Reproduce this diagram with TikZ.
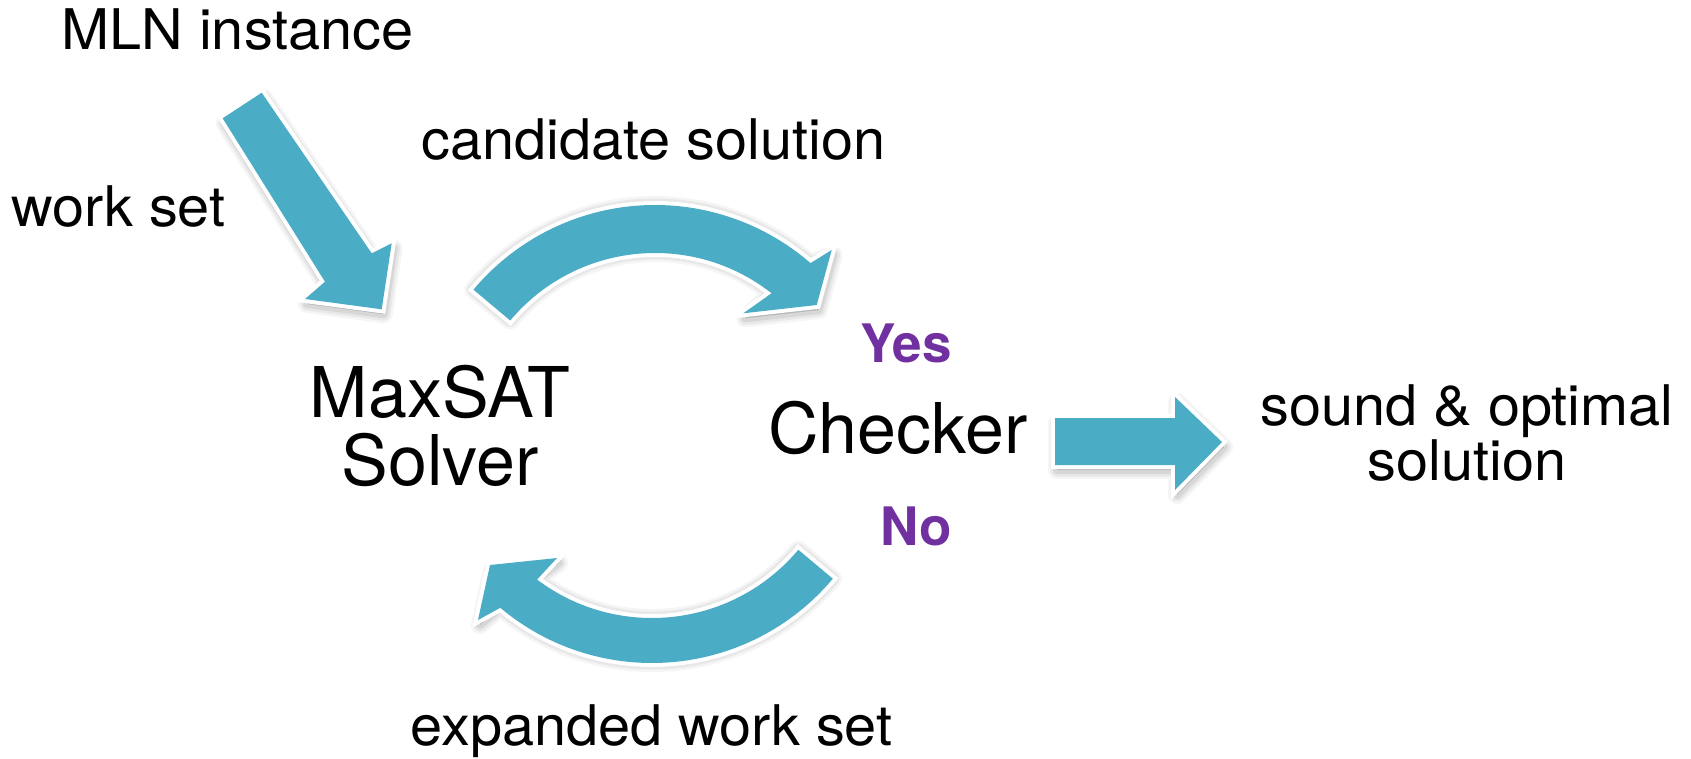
\documentclass[tikz,border=0pt]{standalone}
\usepackage{fontspec}
\setmainfont{TeX Gyre Heros}
\newfontfamily\widelabelfont{TeX Gyre Heros}[FakeStretch=1.03]
\usetikzlibrary{calc}

\definecolor{flowteal}{RGB}{75,172,198}
\definecolor{answerpurple}{RGB}{112,48,160}

% block arrow: soft shadow, white rim, teal body
\newcommand\drawblockarrow[1]{%
  \foreach \w/\o in {18/0.04,13/0.05,8/0.07}{%
    \path[fill=black,draw=black,line width=\w pt,opacity=\o,line join=round,shift={(2,5)}] #1;}
  \path[draw=white,line width=8pt,line join=miter] #1;
  \path[fill=flowteal] #1;
}

\tikzset{
  label text/.style={inner sep=0pt, anchor=base, font=\widelabelfont\fontsize{56}{55}\selectfont},
  stage text/.style={inner sep=0pt, anchor=base, align=center, font=\fontsize{70}{68}\selectfont},
  answer text/.style={inner sep=0pt, anchor=base, text=answerpurple, font=\fontsize{53}{53}\selectfont\bfseries},
}

\begin{document}
\begin{tikzpicture}[x=1pt,y=-1pt]
  \path[use as bounding box, fill=white] (0,0) rectangle (1691,759);

  % centres of the two curved loop arrows
  \coordinate (ct) at (655,442);
  \coordinate (cb) at (652,427);

  % input arrow into the solver
  \drawblockarrow{(222.7,118.3) -- (325,281.7) -- (305,299) -- (381.7,309.3) -- (391.7,243.3) -- (371.7,253.3) -- (261.7,92.7) -- cycle}

  % solver -> checker (upper loop)
  \drawblockarrow{($(ct)+(-140:237)$) arc[start angle=-140,end angle=-49,radius=237] -- (831.7,250) -- (816.7,305) -- (743.3,313.3) -- ($(ct)+(-51.9:189)$) arc[start angle=-51.9,end angle=-140,radius=189] -- cycle}

  % checker -> solver (lower loop)
  \drawblockarrow{($(cb)+(40:236)$) arc[start angle=40,end angle=130,radius=236] -- (478,620) -- (490,565) -- (557,558) -- ($(cb)+(127:191)$) arc[start angle=127,end angle=40,radius=191] -- cycle}

  % checker -> result
  \drawblockarrow{(1055,418) -- (1175,418) -- (1175,397) -- (1222,442) -- (1175,490) -- (1175,465) -- (1055,465) -- cycle}

  % texts (multi-line nodes sit on the baseline of their last line)
  \node[label text] (mln) at (237.5,50) {MLN instance};
  \node[label text] (workset) at (118.5,227) {work set};
  \node[label text] (cand) at (653.5,160) {candidate solution};
  \node[stage text] (solver) at (440,485) {MaxSAT\\Solver};
  \node[answer text] (yes) at (906,362) {Yes};
  \node[stage text] (checker) at (898,453) {Checker};
  \node[answer text] (no) at (916,545) {No};
  \node[label text, align=center] (result) at (1467,480) {sound \& optimal\\solution};
  \node[label text] (expanded) at (651.5,745) {expanded work set};
\end{tikzpicture}
\end{document}
